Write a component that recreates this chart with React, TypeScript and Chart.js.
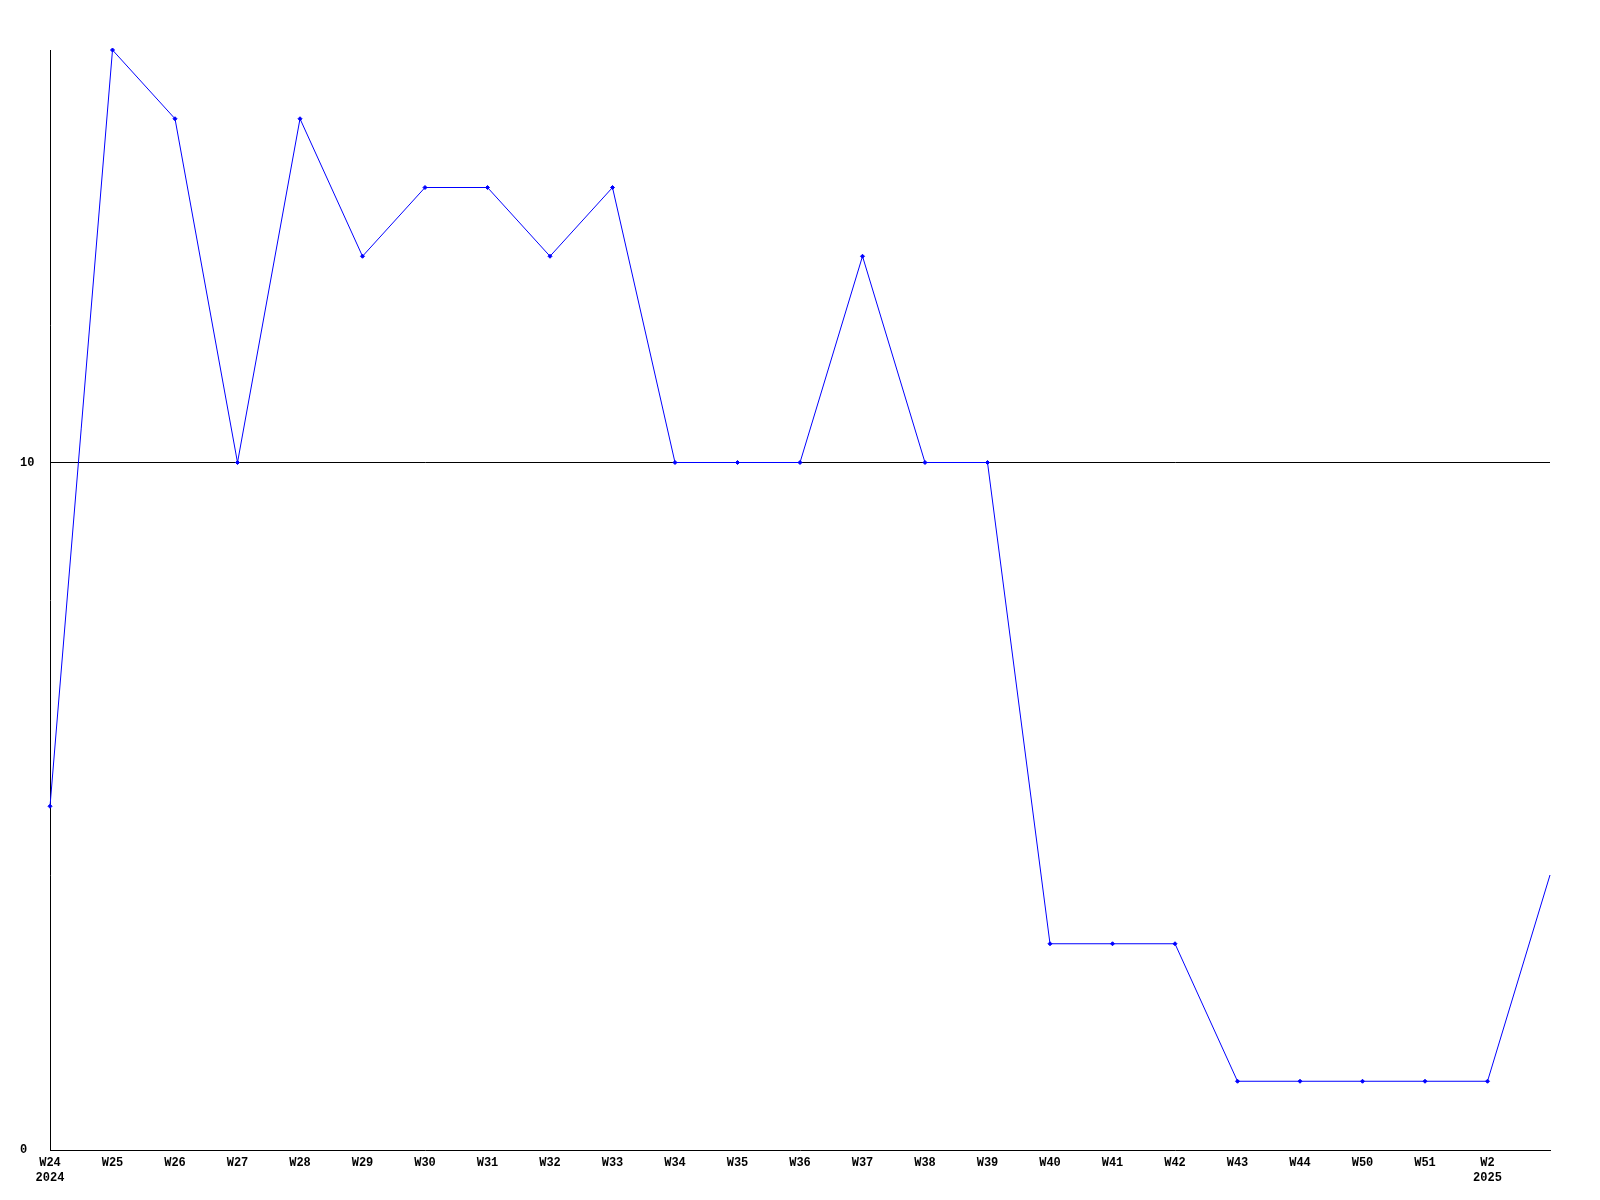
import React, { useEffect, useRef } from "react";
import { Chart, registerables } from "chart.js";

Chart.register(...registerables);

const weekLabels: (string | string[])[] = [
  ["W24", "2024"], "W25", "W26", "W27", "W28", "W29", "W30", "W31", "W32", "W33",
  "W34", "W35", "W36", "W37", "W38", "W39", "W40", "W41", "W42", "W43", "W44",
  "W50", "W51", ["W2", "2025"], "",
];

const seriesValues: number[] = [
  5, 16, 15, 10, 15, 13, 14, 14, 13, 14,
  10, 10, 10, 13, 10, 10, 3, 3, 3, 1, 1,
  1, 1, 1, 4,
];

const yTickValues: number[] = [0, 10];

export default function App() {
  const ref = useRef<HTMLCanvasElement | null>(null);

  useEffect(() => {
    if (!ref.current) return;
    const font = { family: "'Liberation Mono', 'DejaVu Sans Mono', monospace", size: 12, weight: "bold" as const, lineHeight: 1.25 };
    const chart = new Chart(ref.current, {
      type: "line",
      data: {
        labels: weekLabels as any,
        datasets: [
          {
            data: seriesValues,
            borderColor: "#0000ff",
            backgroundColor: "#0000ff",
            borderWidth: 1,
            pointStyle: "rectRot",
            pointRadius: seriesValues.map((_, i) => (i === seriesValues.length - 1 ? 0 : 2)),
            pointBorderWidth: 1,
            tension: 0,
            fill: false,
            clip: false as any,
          },
        ],
      },
      options: {
        animation: false,
        responsive: false,
        layout: { padding: { top: 50, right: 50, left: 20, bottom: 0 } },
        plugins: { legend: { display: false }, tooltip: { enabled: false } },
        scales: {
          x: {
            offset: false,
            grid: { display: false, drawTicks: false },
            border: { display: true, color: "#000000", width: 1 },
            ticks: {
              autoSkip: false,
              maxRotation: 0,
              minRotation: 0,
              padding: 5,
              color: "#000000",
              font,
            },
            afterFit: (s: any) => {
              s.height = 50;
            },
          },
          y: {
            min: 0,
            max: 16,
            afterBuildTicks: (s: any) => {
              s.ticks = yTickValues.map((v) => ({ value: v }));
            },
            grid: {
              drawTicks: false,
              color: (ctx: any) => (ctx.tick && ctx.tick.value === 10 ? "#000000" : "rgba(0,0,0,0)"),
              lineWidth: 1,
            },
            border: { display: true, color: "#000000", width: 1 },
            ticks: {
              padding: 17,
              crossAlign: "far",
              color: "#000000",
              font,
            },
            afterFit: (s: any) => {
              s.width = 30;
            },
          },
        },
      },
    });
    return () => chart.destroy();
  }, []);

  return (
    <canvas
      ref={ref}
      width={1600}
      height={1200}
      style={{ position: "absolute", left: 0, top: 0, width: 1600, height: 1200, background: "#ffffff" }}
    />
  );
}
